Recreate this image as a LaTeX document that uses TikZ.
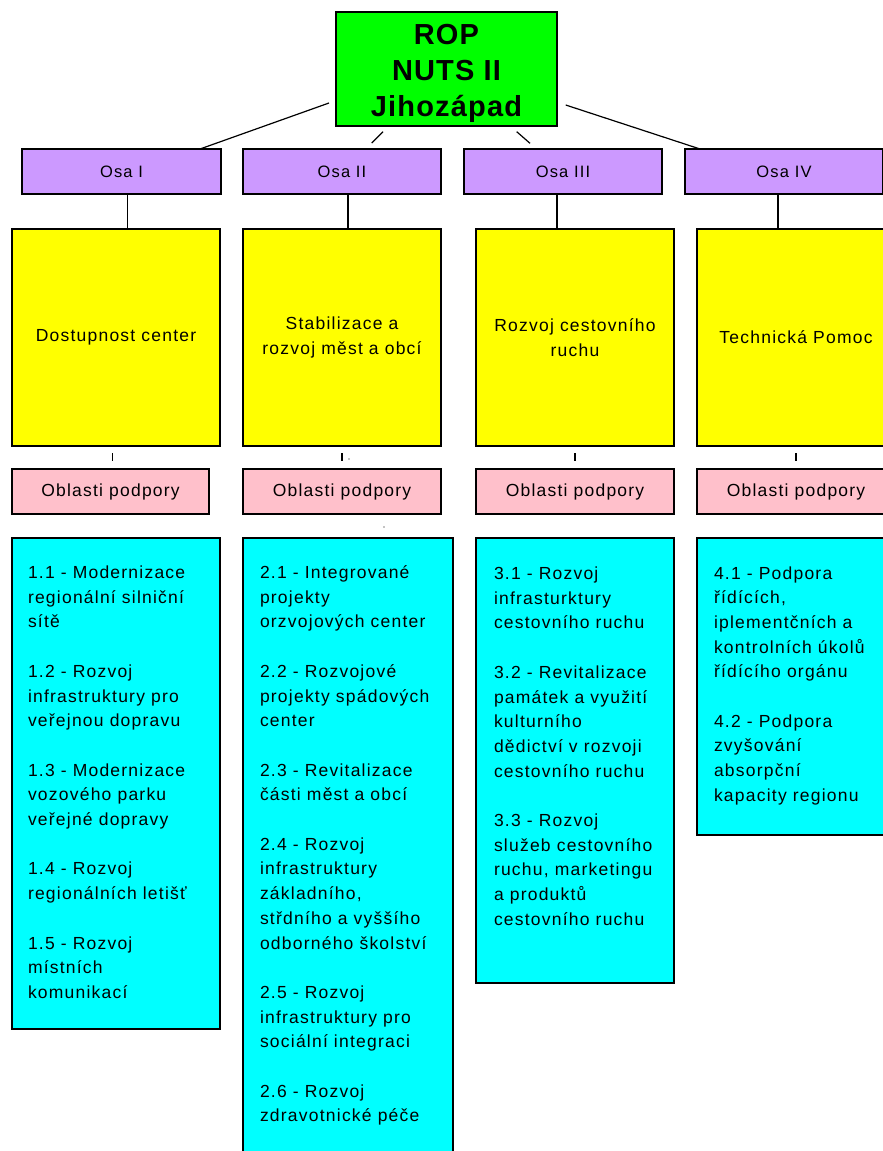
\documentclass[tikz,border=0pt]{standalone}
\usepackage{fontspec}
\setmainfont{Liberation Sans}
\newfontfamily\bodyfont{Liberation Sans}[LetterSpace=7]
\newfontfamily\titlefont{Liberation Sans}[LetterSpace=4]
\definecolor{rootgreen}{RGB}{0,255,0}
\definecolor{osapurple}{RGB}{204,153,255}
\definecolor{axisyellow}{RGB}{255,255,0}
\definecolor{areapink}{RGB}{255,192,203}
\definecolor{listcyan}{RGB}{0,255,255}
\tikzset{
  box/.style={draw=black, line width=1.7pt, inner sep=0pt, outer sep=0pt, anchor=north west},
  rootbox/.style={box, fill=rootgreen, minimum width=221pt, minimum height=114pt,
    align=center, font=\titlefont\bfseries\fontsize{29}{35.8}\selectfont},
  osabox/.style={box, fill=osapurple, minimum width=198pt, minimum height=45pt,
    font=\bodyfont\fontsize{16.5}{20}\selectfont},
  axisbox/.style={box, fill=axisyellow, minimum width=198pt, minimum height=217pt,
    align=center, font=\bodyfont\fontsize{17.5}{24.5}\selectfont},
  areabox/.style={box, fill=areapink, minimum width=198pt, minimum height=45pt,
    font=\bodyfont\fontsize{17.5}{24.5}\selectfont},
  listbox/.style={box, fill=listcyan, minimum width=198pt},
  listtext/.style={anchor=north west, inner sep=0pt, outer sep=0pt, align=left,
    font=\bodyfont\fontsize{17.5}{24.7}\selectfont},
  conn/.style={draw=black, line width=1.2pt},
}
\newcommand{\firstline}{\rule{0pt}{17.5pt}}
\begin{document}
\begin{tikzpicture}[x=1pt, y=-1pt]
\useasboundingbox (0,0) rectangle (883,1151);
\clip (0,0) rectangle (883,1151);
\fill[white] (0,0) rectangle (883,1151);

% root
\node[rootbox] (root) at (336,12) {\rule{0pt}{29pt}ROP\\NUTS II\\Jihozápad};

% axes
\node[osabox, minimum width=199pt] (osa1) at (22,149) {Osa I};
\node[osabox] (osa2) at (243,149) {Osa II};
\node[osabox] (osa3) at (464,149) {Osa III};
\node[osabox] (osa4) at (685,149) {Osa IV};

% yellow boxes
\node[axisbox, minimum width=208pt] (y1) at (12,229) {Dostupnost center};
\node[axisbox] (y2) at (243,229) {Stabilizace a\\rozvoj měst a obcí};
\node[axisbox] (y3) at (476,229) {Rozvoj cestovního\\ruchu};
\node[axisbox] (y4) at (697,229) {Technická Pomoc};

% pink boxes
\node[areabox, minimum width=197pt] (p1) at (12,469) {Oblasti podpory};
\node[areabox] (p2) at (243,469) {Oblasti podpory};
\node[areabox] (p3) at (476,469) {Oblasti podpory};
\node[areabox] (p4) at (697,469) {Oblasti podpory};

% cyan boxes
\node[listbox, minimum width=208pt, minimum height=491pt] (c1) at (12,538) {};
\node[listbox, minimum width=210pt, minimum height=640pt] (c2) at (243,538) {};
\node[listbox, minimum height=445pt] (c3) at (476,538) {};
\node[listbox, minimum height=297pt] (c4) at (697,538) {};

\node[listtext] (t1) at ([shift={(16pt,-23pt)}]c1.north west) {\firstline 1.1 - Modernizace\\regionální silniční\\sítě\\[24.7pt]
1.2 - Rozvoj\\infrastruktury pro\\veřejnou dopravu\\[24.7pt]
1.3 - Modernizace\\vozového parku\\veřejné dopravy\\[24.7pt]
1.4 - Rozvoj\\regionálních letišť\\[24.7pt]
1.5 - Rozvoj\\místních\\komunikací};

\node[listtext] (t2) at ([shift={(17pt,-23pt)}]c2.north west) {\firstline 2.1 - Integrované\\projekty\\orzvojových center\\[24.7pt]
2.2 - Rozvojové\\projekty spádových\\center\\[24.7pt]
2.3 - Revitalizace\\části měst a obcí\\[24.7pt]
2.4 - Rozvoj\\infrastruktury\\základního,\\střdního a vyššího\\odborného školství\\[24.7pt]
2.5 - Rozvoj\\infrastruktury pro\\sociální integraci\\[24.7pt]
2.6 - Rozvoj\\zdravotnické péče};

\node[listtext] (t3) at ([shift={(18pt,-24pt)}]c3.north west) {\firstline 3.1 - Rozvoj\\infrasturktury\\cestovního ruchu\\[24.7pt]
3.2 - Revitalizace\\památek a využití\\kulturního\\dědictví v rozvoji\\cestovního ruchu\\[24.7pt]
3.3 - Rozvoj\\služeb cestovního\\ruchu, marketingu\\a produktů\\cestovního ruchu};

\node[listtext] (t4) at ([shift={(17pt,-23.5pt)}]c4.north west) {\firstline 4.1 - Podpora\\řídících,\\iplementčních a\\kontrolních úkolů\\řídícího orgánu\\[24.7pt]
4.2 - Podpora\\zvyšování\\absorpční\\kapacity regionu};

% connectors root -> axes
\draw[conn] ([shift={(-7pt,23pt)}]root.south west) -- ([xshift=-21pt]osa1.north east);
\draw[conn] ([shift={(47pt,-5.7pt)}]root.south west) -- ([shift={(29.7pt,6pt)}]osa2.north);
\draw[conn] ([shift={(-40.3pt,-5.7pt)}]root.south east) -- ([shift={(-33pt,5.7pt)}]osa3.north);
\draw[conn] ([shift={(8.7pt,21pt)}]root.south east) -- ([xshift=15pt]osa4.north west);

% axes -> yellow
\draw[conn] ([xshift=6pt]osa1.south) -- ([xshift=6pt]osa1.south |- y1.north);
\draw[conn] ([xshift=6pt]osa2.south) -- ([xshift=6pt]osa2.south |- y2.north);
\draw[conn] ([xshift=-6pt]osa3.south) -- ([xshift=-6pt]osa3.south |- y3.north);
\draw[conn] ([xshift=-6pt]osa4.south) -- ([xshift=-6pt]osa4.south |- y4.north);

% yellow -> pink (short visible ticks)
\draw[conn, shorten <=7pt, shorten >=8.5pt] ([xshift=-3.5pt]y1.south) -- ([xshift=-3.5pt]y1.south |- p1.north);
\draw[conn, shorten <=7pt, shorten >=8.5pt] (y2.south) -- (p2.north);
\draw[conn, shorten <=7pt, shorten >=8.5pt] (y3.south) -- (p3.north);
\draw[conn, shorten <=7pt, shorten >=8.5pt] (y4.south) -- (p4.north);

% stray dots
\fill (349,459) circle (0.7pt);
\fill (384,527) circle (0.7pt);
\end{tikzpicture}
\end{document}
